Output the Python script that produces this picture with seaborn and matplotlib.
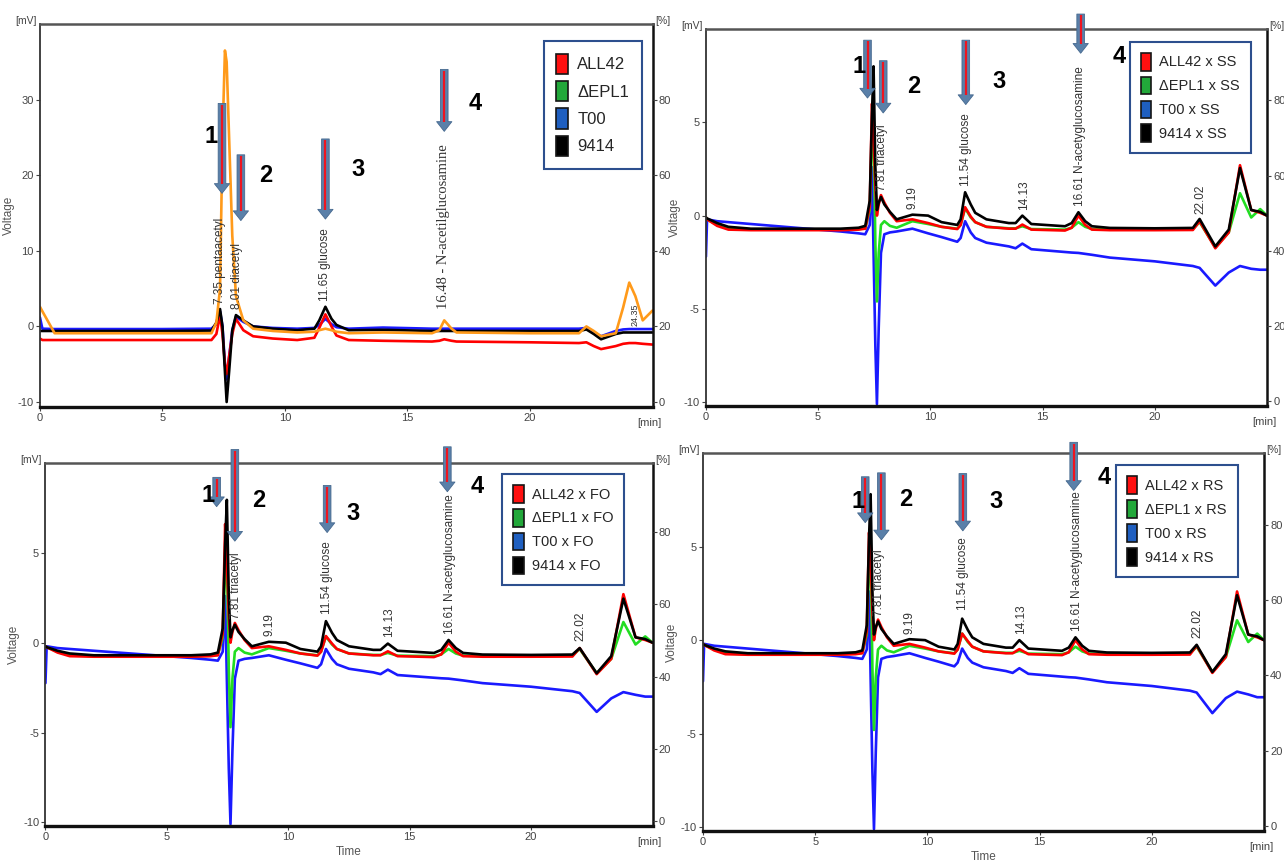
import matplotlib
matplotlib.use("Agg")
import matplotlib.pyplot as plt
from matplotlib.patches import Patch
import seaborn as sns

# ---- panel A (no treatment) ----
T_A = [0, 0.1, 0.6, 1, 3, 5, 7.0, 7.2, 7.35, 7.45,
       7.55, 7.62, 7.72, 7.85, 8.0, 8.3, 8.7, 9.5, 10.5, 11.2,
       11.4, 11.65, 11.9, 12.1, 12.6, 14.0, 16.0, 16.3, 16.5, 16.8,
       17.0, 20, 22.0, 22.3, 22.6, 22.9, 23.5, 23.8, 24.05, 24.3,
       24.6, 25]
A_black = [-0.6, -0.6, -0.6, -0.6, -0.6, -0.6, -0.55, 0.5, 2.3, 0.0,
           -6.0, -10.0, -6.0, -0.5, 1.5, 0.8, 0.0, -0.3, -0.5, -0.3,
           0.8, 2.6, 1.0, 0.2, -0.5, -0.45, -0.6, -0.6, -0.6, -0.6,
           -0.6, -0.6, -0.6, -0.4, -1.0, -1.7, -1.0, -0.8, -0.8, -0.8,
           -0.8, -0.8]
A_blue = [1.2, -0.3, -0.35, -0.35, -0.35, -0.35, -0.3, 0.3, 2.0, 0.0,
          -5.0, -7.0, -4.0, -0.5, 1.3, 0.6, 0.0, -0.2, -0.3, -0.2,
          0.2, 1.0, 0.3, -0.1, -0.3, -0.15, -0.3, -0.3, -0.3, -0.3,
          -0.3, -0.3, -0.3, -0.2, -0.8, -1.3, -0.6, -0.4, -0.35, -0.35,
          -0.35, -0.35]
A_red = [-1.6, -1.8, -1.8, -1.8, -1.8, -1.8, -1.8, -1.0, 1.5, -1.0,
         -5.0, -6.3, -4.0, -1.0, 1.0, -0.5, -1.3, -1.6, -1.8, -1.5,
         -0.2, 1.6, 0.0, -1.2, -1.8, -1.9, -2.0, -1.9, -1.7, -1.9,
         -2.0, -2.1, -2.2, -2.1, -2.6, -3.0, -2.6, -2.3, -2.2, -2.2,
         -2.3, -2.4]
A_orange = [2.6, 2.0, -0.9, -0.9, -0.9, -0.9, -0.9, 0.5, 5.0, 25.0,
            36.5, 35.0, 25.0, 12.0, 4.0, 0.8, -0.3, -0.6, -0.8, -0.7,
            -0.5, -0.3, -0.5, -0.7, -0.9, -0.8, -0.9, -0.5, 0.8, -0.3,
            -0.8, -0.9, -0.9, 0.0, -0.6, -1.3, -0.9, 2.5, 5.8, 4.0,
            0.8, 2.1]

# ---- panels SS / FO / RS share one time grid ----
T_X = [0, 0.05, 0.5, 1, 2, 4, 6, 6.8, 7.1, 7.3,
       7.4, 7.47, 7.55, 7.62, 7.7, 7.8, 7.95, 8.2, 8.5, 9.2,
       9.9, 10.5, 11.2, 11.35, 11.55, 11.8, 12.0, 12.5, 13.5, 13.8,
       14.1, 14.5, 16.0, 16.3, 16.6, 16.9, 17.2, 18, 20, 21.7,
       22.0, 22.7, 23.3, 23.8, 24.3, 24.7, 25]

SS_black = [-0.1, -0.15, -0.4, -0.6, -0.7, -0.7, -0.7, -0.65, -0.55, 0.8,
            5.5, 8.0, 2.6, 0.3, 0.7, 1.0, 0.6, 0.2, -0.2, 0.05,
            0.0, -0.35, -0.5, -0.2, 1.25, 0.6, 0.15, -0.2, -0.4, -0.4,
            0.0, -0.45, -0.57, -0.4, 0.18, -0.3, -0.57, -0.66, -0.68, -0.66,
            -0.18, -1.65, -0.75, 2.55, 0.3, 0.2, 0.0]
SS_red = [-0.1, -0.2, -0.55, -0.75, -0.78, -0.78, -0.78, -0.75, -0.7, 0.5,
          6.0, 4.5, 1.5, 0.0, 0.6, 1.1, 0.7, 0.15, -0.3, -0.2,
          -0.4, -0.6, -0.72, -0.5, 0.45, -0.05, -0.35, -0.6, -0.7, -0.7,
          -0.48, -0.75, -0.8, -0.65, 0.0, -0.5, -0.75, -0.78, -0.78, -0.77,
          -0.3, -1.75, -0.9, 2.7, 0.3, 0.15, 0.0]
SS_green = [-0.1, -0.2, -0.5, -0.7, -0.75, -0.75, -0.75, -0.72, -0.68, 0.3,
            4.0, 5.0, -1.5, -4.6, -2.0, -0.5, -0.3, -0.55, -0.65, -0.3,
            -0.45, -0.6, -0.7, -0.5, 0.4, -0.1, -0.35, -0.6, -0.68, -0.68,
            -0.57, -0.72, -0.75, -0.65, -0.35, -0.6, -0.72, -0.74, -0.74, -0.72,
            -0.35, -1.7, -0.9, 1.2, -0.1, 0.35, 0.0]
SS_blue = [-2.2, -0.2, -0.3, -0.35, -0.45, -0.65, -0.85, -0.95, -1.0, -0.5,
           2.6, -2.0, -7.0, -10.1, -6.0, -2.0, -1.0, -0.9, -0.85, -0.7,
           -0.95, -1.15, -1.4, -1.2, -0.3, -0.9, -1.2, -1.45, -1.65, -1.75,
           -1.5, -1.8, -1.95, -1.98, -2.0, -2.05, -2.1, -2.25, -2.45, -2.7,
           -2.8, -3.75, -3.05, -2.7, -2.85, -2.9, -2.9]

FO_black = [-0.2, -0.25, -0.45, -0.6, -0.7, -0.7, -0.7, -0.65, -0.55, 0.8,
            5.5, 7.95, 2.6, 0.3, 0.7, 1.0, 0.6, 0.2, -0.2, 0.05,
            0.0, -0.35, -0.5, -0.2, 1.2, 0.55, 0.15, -0.2, -0.4, -0.4,
            -0.05, -0.45, -0.57, -0.4, 0.15, -0.3, -0.57, -0.66, -0.68, -0.66,
            -0.3, -1.7, -0.75, 2.45, 0.3, 0.2, 0.0]
FO_red = [-0.2, -0.25, -0.55, -0.75, -0.78, -0.78, -0.78, -0.75, -0.7, 0.5,
          6.6, 4.5, 1.5, 0.0, 0.6, 1.1, 0.7, 0.15, -0.3, -0.2,
          -0.4, -0.6, -0.72, -0.5, 0.37, -0.05, -0.35, -0.6, -0.7, -0.7,
          -0.48, -0.75, -0.8, -0.65, 0.0, -0.5, -0.75, -0.78, -0.78, -0.77,
          -0.3, -1.75, -0.9, 2.7, 0.3, 0.15, 0.0]
FO_green = [-0.2, -0.25, -0.5, -0.7, -0.75, -0.75, -0.75, -0.72, -0.68, 0.3,
            4.0, 5.0, -1.5, -4.7, -2.0, -0.5, -0.3, -0.55, -0.65, -0.3,
            -0.45, -0.6, -0.7, -0.5, 0.35, -0.1, -0.35, -0.6, -0.68, -0.68,
            -0.57, -0.72, -0.75, -0.65, -0.35, -0.6, -0.72, -0.74, -0.74, -0.72,
            -0.35, -1.7, -0.9, 1.15, -0.1, 0.35, 0.0]
FO_blue = [-2.25, -0.2, -0.3, -0.35, -0.45, -0.65, -0.85, -0.95, -1.0, -0.5,
           2.6, -2.0, -7.0, -10.1, -6.0, -2.0, -1.0, -0.9, -0.85, -0.7,
           -0.95, -1.15, -1.4, -1.2, -0.35, -0.9, -1.2, -1.45, -1.65, -1.75,
           -1.5, -1.8, -1.95, -1.98, -2.0, -2.05, -2.1, -2.25, -2.45, -2.7,
           -2.8, -3.85, -3.1, -2.75, -2.9, -3.0, -3.0]

RS_black = [-0.2, -0.25, -0.45, -0.6, -0.7, -0.7, -0.7, -0.65, -0.55, 0.8,
            5.5, 7.8, 2.6, 0.3, 0.7, 1.0, 0.6, 0.2, -0.2, 0.05,
            0.0, -0.35, -0.5, -0.2, 1.15, 0.55, 0.15, -0.2, -0.4, -0.4,
            0.0, -0.45, -0.57, -0.4, 0.15, -0.3, -0.57, -0.66, -0.68, -0.66,
            -0.25, -1.7, -0.75, 2.4, 0.3, 0.2, 0.0]
RS_red = [-0.2, -0.25, -0.55, -0.75, -0.78, -0.78, -0.78, -0.75, -0.7, 0.5,
          5.75, 4.5, 1.5, 0.0, 0.6, 1.1, 0.7, 0.15, -0.3, -0.2,
          -0.4, -0.6, -0.72, -0.5, 0.35, -0.05, -0.35, -0.6, -0.7, -0.7,
          -0.48, -0.75, -0.8, -0.65, 0.0, -0.5, -0.75, -0.78, -0.78, -0.77,
          -0.3, -1.75, -0.9, 2.6, 0.3, 0.15, 0.0]
RS_green = [-0.2, -0.25, -0.5, -0.7, -0.75, -0.75, -0.75, -0.72, -0.68, 0.3,
            4.0, 4.9, -1.5, -4.8, -2.0, -0.5, -0.3, -0.55, -0.65, -0.3,
            -0.45, -0.6, -0.7, -0.5, 0.35, -0.1, -0.35, -0.6, -0.68, -0.68,
            -0.57, -0.72, -0.75, -0.65, -0.35, -0.6, -0.72, -0.74, -0.74, -0.72,
            -0.35, -1.7, -0.9, 1.06, -0.1, 0.35, 0.0]
RS_blue = [-2.2, -0.2, -0.3, -0.35, -0.45, -0.65, -0.85, -0.95, -1.0, -0.5,
           2.6, -2.0, -7.0, -10.1, -6.0, -2.0, -1.0, -0.9, -0.85, -0.7,
           -0.95, -1.15, -1.4, -1.2, -0.45, -0.95, -1.2, -1.45, -1.65, -1.75,
           -1.5, -1.8, -1.95, -1.98, -2.0, -2.05, -2.1, -2.25, -2.45, -2.7,
           -2.8, -3.9, -3.1, -2.75, -2.9, -3.05, -3.05]

# legend labels
strains = ["ALL42", "\u0394EPL1", "T00", "9414"]
LEG_COLORS = ["#ff1010", "#22a83a", "#1f5fc0", "#000000"]

# peak labels (time, y, label)
A_peaks = [(7.35, 3.0, "7.35 pentaacetyl"), (8.05, 2.3, "8.01 diacetyl"),
           (11.65, 3.4, "11.65 glucose")]
X_peaks = [(7.86, 1.3, "7.81 triacetyl"), (9.22, 0.35, "9.19"),
           (11.6, 1.6, "11.54 glucose"), (14.16, 0.32, "14.13"),
           (16.65, 0.5, "16.61 N-acetyglucosamine"), (22.05, 0.1, "22.02")]

# arrows: (x, y_tail, y_head) and numbers (x, y)
A_arrows = [(7.43, 29.5, 17.6), (8.2, 22.7, 14.0), (11.65, 24.8, 14.2), (16.5, 34.0, 25.8)]
A_nums = [(7.0, 25.1), (9.2, 19.9), (13.0, 20.7), (17.75, 29.5)]
SS_arrows = [(7.2, 9.4, 6.3), (7.9, 8.3, 5.5), (11.58, 9.4, 5.95), (16.7, 10.8, 8.7)]
SS_nums = [(6.82, 8.0), (9.26, 6.9), (13.06, 7.2), (18.4, 8.5)]
FO_arrows = [(7.05, 9.2, 7.57), (7.8, 10.75, 5.65), (11.6, 8.75, 6.13), (16.55, 10.9, 8.4)]
FO_nums = [(6.7, 8.2), (8.8, 7.9), (12.68, 7.2), (17.77, 8.7)]
RS_arrows = [(7.23, 8.73, 6.28), (7.95, 8.94, 5.36), (11.58, 8.9, 5.84), (16.52, 10.57, 8.0)]
RS_nums = [(6.92, 7.43), (9.04, 7.5), (13.05, 7.4), (17.87, 8.67)]

sns.set_theme(style="white")
plt.rcParams["font.family"] = ["Liberation Sans", "DejaVu Sans"]
plt.rcParams["axes.unicode_minus"] = False

fig = plt.figure(figsize=(12.84, 8.68), dpi=100)
ax_a = fig.add_axes([0.0311, 0.5311, 0.4771, 0.4412])
ax_ss = fig.add_axes([0.5498, 0.5323, 0.4369, 0.4343])
ax_fo = fig.add_axes([0.0354, 0.0484, 0.4728, 0.4182])
ax_rs = fig.add_axes([0.5475, 0.0426, 0.4369, 0.4355])

TICK = "#444444"


def setup(ax, ylo, yhi, yticks, plo, phi, time_label):
    ax.set_xlim(0, 25)
    ax.set_ylim(ylo, yhi)
    ax.set_xticks([0, 5, 10, 15, 20])
    ax.set_yticks(yticks)
    ax.tick_params(left=True, bottom=True, direction="out", length=3, width=0.8,
                   labelsize=8, colors=TICK, pad=1.5)
    ax.spines["top"].set_color("#555555")
    ax.spines["top"].set_linewidth(1.8)
    ax.spines["bottom"].set_color("#111111")
    ax.spines["bottom"].set_linewidth(2.4)
    ax.spines["left"].set_color("#333333")
    ax.spines["left"].set_linewidth(1.3)
    ax.spines["right"].set_color("#111111")
    ax.spines["right"].set_linewidth(1.8)
    ax.set_ylabel("Voltage", fontsize=8.5, color="#555555", labelpad=2)
    if time_label:
        ax.set_xlabel("Time", fontsize=8.5, color="#555555", labelpad=3)
    ax2 = ax.twinx()
    ax2.set_ylim(plo, phi)
    ax2.set_yticks([0, 20, 40, 60, 80])
    ax2.tick_params(right=True, direction="out", length=3, width=0.8,
                    labelsize=8, colors=TICK, pad=1.5)
    for sp in ax2.spines.values():
        sp.set_visible(False)
    ax.text(-0.006, 0.995, "[mV]", transform=ax.transAxes, ha="right", va="bottom",
            fontsize=7.5, color=TICK)
    ax.text(1.004, 0.995, "[%]", transform=ax.transAxes, ha="left", va="bottom",
            fontsize=7.5, color=TICK)
    ax.text(0.995, -0.03, "[min]", transform=ax.transAxes, ha="center", va="top",
            fontsize=8, color=TICK)


def traces(ax, t, series):
    for vals, col in series:
        sns.lineplot(x=t, y=vals, ax=ax, color=col, linewidth=1.9, sort=False,
                     estimator=None, legend=False)


def labels(ax, peaks, size=8.5, family="Liberation Sans"):
    for x, y, s in peaks:
        ax.text(x, y, s, rotation=90, ha="center", va="bottom", fontsize=size,
                color="#333333", family=family, zorder=5)


def arrows(ax, arr, nums):
    lo, hi = ax.get_ylim()
    h_px = ax.get_position().height * fig.get_figheight() * fig.dpi
    head = 9.5 * (hi - lo) / h_px
    top = 1.2 * (hi - lo) / h_px
    for x, y0, y1 in arr:
        ax.annotate("", xy=(x, y1), xytext=(x, y0), annotation_clip=False, zorder=6,
                    arrowprops=dict(arrowstyle="simple,head_length=0.7,head_width=1.1,tail_width=0.55",
                                    fc="#5a80a9", ec="#46698f", lw=0.6, mutation_scale=10,
                                    shrinkA=0, shrinkB=0))
        ax.plot([x, x], [y0 - top, y1 + head], color="#ee1520", linewidth=1.6,
                clip_on=False, zorder=7, solid_capstyle="butt")
    for i, (x, y) in enumerate(nums):
        ax.text(x, y, str(i + 1), ha="center", va="center", fontsize=17,
                weight="bold", color="black", family="Liberation Sans", zorder=8)


def legend(ax, labs, anchor, size):
    handles = [Patch(facecolor=c, edgecolor="#151515", linewidth=1.2) for c in LEG_COLORS]
    leg = ax.legend(handles, labs, loc="upper right", bbox_to_anchor=anchor,
                    frameon=True, fancybox=False, framealpha=1, edgecolor="#2d4f8e",
                    prop={"family": ["Liberation Sans", "DejaVu Sans"], "size": size},
                    handlelength=0.7, handleheight=1.5, handletextpad=0.55,
                    labelspacing=0.42, borderpad=0.75, borderaxespad=0)
    leg.get_frame().set_linewidth(1.5)
    leg.set_zorder(9)


# panel A
setup(ax_a, -10.66, 40, [-10, 0, 10, 20, 30], -1.3, 100, False)
traces(ax_a, T_A, [(A_blue, "#1a1aff"), (A_red, "#ff0000"), (A_black, "#000000"),
                   (A_orange, "#ff9a1a")])
labels(ax_a, A_peaks)
labels(ax_a, [(24.3, 0.1, "24.35")], size=6.5)
ax_a.text(16.48, 2.3, "16.48 - N-acetilglucosamine", rotation=90, ha="center", va="bottom",
          fontsize=10.5, color="#333333", family="Liberation Serif", zorder=5)
arrows(ax_a, A_arrows, A_nums)
legend(ax_a, strains, (0.982, 0.955), 12)

# treated panels
panels = [
    (ax_ss, "SS", SS_black, SS_red, SS_green, SS_blue, SS_arrows, SS_nums, (0.971, 0.966), False),
    (ax_fo, "FO", FO_black, FO_red, FO_green, FO_blue, FO_arrows, FO_nums, (0.953, 0.97), True),
    (ax_rs, "RS", RS_black, RS_red, RS_green, RS_blue, RS_arrows, RS_nums, (0.953, 0.968), True),
]
for ax, tag, bk, rd, gr, bl, arr, nums, anchor, tl in panels:
    setup(ax, -10.2, 10, [-10, -5, 0, 5], -1.3, 99, tl)
    traces(ax, T_X, [(bl, "#1a1aff"), (gr, "#22dd22"), (rd, "#ff0000"), (bk, "#000000")])
    labels(ax, X_peaks)
    arrows(ax, arr, nums)
    legend(ax, [s + " x " + tag for s in strains], anchor, 10.5)

fig.savefig("out.png", dpi=100)
